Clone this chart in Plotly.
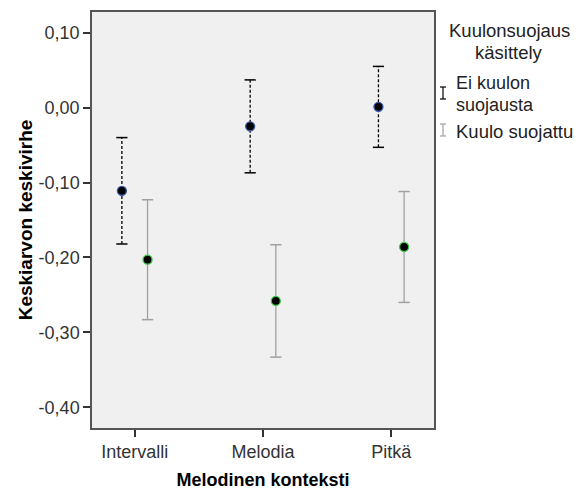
import plotly.graph_objects as go

categories = ["Intervalli", "Melodia", "Pitkä"]
legend_title = ["Kuulonsuojaus", "käsittely"]
series_names = [["Ei kuulon", "suojausta"], ["Kuulo suojattu"]]
means_ei = [-0.111, -0.025, 0.001]
errs_ei = [0.071, 0.062, 0.054]
means_suoj = [-0.203, -0.258, -0.186]
errs_suoj = [0.080, 0.075, 0.074]
y_ticks = [0.10, 0.00, -0.10, -0.20, -0.30, -0.40]
y_ticklabels = ["0,10", "0,00", "-0,10", "-0,20", "-0,30", "-0,40"]

# page body has an 8px margin; figure sized to fit the window
OFF = 8
W, H = 574, 489
L, R, T, B = 84, 148, 4, 69

fig = go.Figure()

def add_series(means, errs, offset, line_color, dash, marker_line):
    xs = [i + offset for i in range(len(means))]
    sx, sy = [], []
    for x, m, e in zip(xs, means, errs):
        sx += [x, x, None]
        sy += [m - e, m + e, None]
    fig.add_trace(go.Scatter(x=sx, y=sy, mode="lines",
                             line=dict(color=line_color, width=1.3, dash=dash),
                             showlegend=False, hoverinfo="skip"))
    cx, cy = [], []
    for x, m, e in zip(xs, means, errs):
        cx += [x, x]
        cy += [m - e, m + e]
    fig.add_trace(go.Scatter(x=cx, y=cy, mode="markers",
                             marker=dict(symbol="line-ew", size=8,
                                         line=dict(color=line_color, width=1.5)),
                             showlegend=False, hoverinfo="skip"))
    fig.add_trace(go.Scatter(x=xs, y=means, mode="markers",
                             marker=dict(color="black", size=9,
                                         line=dict(color=marker_line, width=1.3)),
                             showlegend=False))

add_series(means_ei, errs_ei, -0.1, "black", "3px,2px", "#3a5aa8")
add_series(means_suoj, errs_suoj, 0.1, "#a0a0a0", "solid", "#3ec84a")

font = "Liberation Sans, Arial, sans-serif"

fig.update_layout(
    width=W, height=H,
    margin=dict(l=L, r=R, t=T, b=B, autoexpand=False),
    paper_bgcolor="white",
    plot_bgcolor="#f0f0f0",
    font=dict(family=font, size=18, color="#222222"),
    showlegend=False,
    xaxis=dict(range=[-0.333, 2.333], tickvals=[0, 1, 2], ticktext=categories,
               ticks="outside", ticklen=7, tickcolor="#333333", tickwidth=1.5,
               showgrid=False, zeroline=False, automargin=False,
               showline=True, linecolor="#555555", linewidth=1.5, mirror=True,
               tickfont=dict(size=18, color="#333333"),
               title=dict(text="<b>Melodinen konteksti</b>", standoff=12,
                          font=dict(size=18, color="black"))),
    yaxis=dict(range=[-0.4276, 0.1276], tickvals=y_ticks, ticktext=y_ticklabels,
               ticks="outside", ticklen=7, tickcolor="#333333", tickwidth=1.5,
               showgrid=False, zeroline=False, automargin=False,
               showline=True, linecolor="#555555", linewidth=1.5, mirror=True,
               tickfont=dict(size=18, color="#333333"),
               title=dict(text="<b>Keskiarvon keskivirhe</b>", standoff=1,
                          font=dict(size=19, color="black"))),
)

def px(x):
    return (x - OFF - L) / (W - L - R)

def py(y):
    return (H - B - (y - OFF)) / (H - T - B)

def label(x, y, text, anchor, size=18):
    fig.add_annotation(x=px(x), y=py(y), xref="paper", yref="paper",
                       text=text, showarrow=False,
                       xanchor=anchor, yanchor="middle",
                       font=dict(size=size, color="#222222"))

label(509, 31, legend_title[0], "center", 18.5)
label(509, 53, legend_title[1], "center", 18.5)
label(454, 83, series_names[0][0], "left")
label(454, 105, series_names[0][1], "left")
label(454, 131, series_names[1][0], "left", 18.5)

for yc, col in [(93, "black"), (130, "#a0a0a0")]:
    xc = 443
    fig.add_shape(type="line", xref="paper", yref="paper",
                  x0=px(xc), x1=px(xc), y0=py(yc - 6), y1=py(yc + 6),
                  line=dict(color=col, width=1.2))
    for yy in (yc - 6, yc + 6):
        fig.add_shape(type="line", xref="paper", yref="paper",
                      x0=px(xc - 3), x1=px(xc + 3), y0=py(yy), y1=py(yy),
                      line=dict(color=col, width=1.2))

fig.write_html("out.html")
